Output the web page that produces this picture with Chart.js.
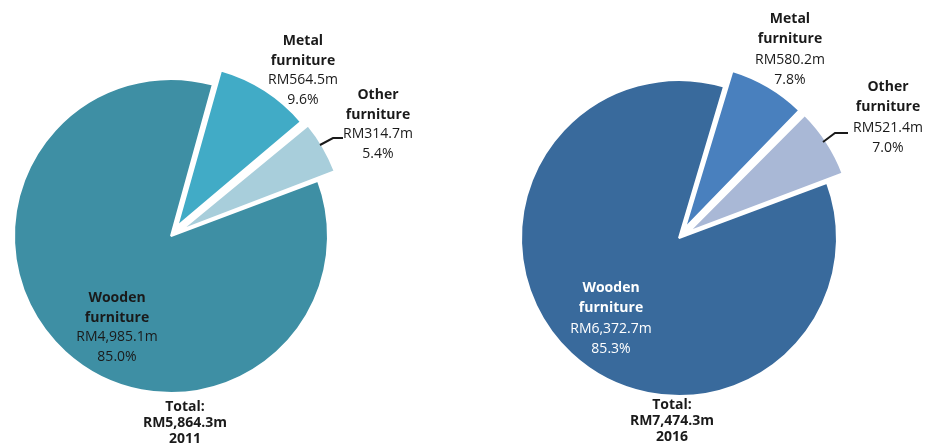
<!DOCTYPE html>
<html>
<head>
<meta charset="utf-8">
<script src="https://cdn.jsdelivr.net/npm/chart.js@4.4.1/dist/chart.umd.min.js"></script>
<style>
  html, body { margin: 0; padding: 0; background: #fff; }
  #wrap { position: relative; width: 930px; height: 447px; overflow: hidden; }
  canvas { position: absolute; top: 0; }
</style>
</head>
<body>
<div id="wrap">
  <canvas id="pie2011" width="465" height="447" style="left:0"></canvas>
  <canvas id="pie2016" width="465" height="447" style="left:465px"></canvas>
</div>
<script>
var categories = ['Wooden furniture', 'Metal furniture', 'Other furniture'];
var values2011 = [4985.1, 564.5, 314.7];
var values2016 = [6372.7, 580.2, 521.4];
var years = ['2011', '2016'];

function fmtRM(v) {
    return 'RM' + v.toLocaleString('en-US', {minimumFractionDigits: 1, maximumFractionDigits: 1}) + 'm';
}

// draws the slice labels, leader line and total under each pie
var pieLabels = {
    id: 'pieLabels',
    afterDatasetsDraw: function(chart, args, opts) {
        var ctx = chart.ctx;
        var arcs = chart.getDatasetMeta(0).data;
        var cx = arcs[0].x, cy = arcs[0].y;
        var data = chart.data.datasets[0].data;
        var total = data.reduce(function(a, b) { return a + b; }, 0);
        var font = '"Open Sans", "Noto Sans", sans-serif';
        ctx.save();
        ctx.textAlign = 'center';
        ctx.textBaseline = 'middle';
        opts.spots.forEach(function(s, i) {
            var words = chart.data.labels[i].split(' ');
            var lines = [
                {t: words[0], b: true},
                {t: words[1], b: true},
                {t: fmtRM(data[i]), b: false},
                {t: (data[i] / total * 100).toFixed(1) + '%', b: false}
            ];
            ctx.fillStyle = s.color || '#1a1a1a';
            lines.forEach(function(l, k) {
                ctx.font = (l.b ? 'bold ' : '') + '14px ' + font;
                ctx.fillText(l.t, cx + s.dx, cy + s.dy + k * opts.lineGap);
            });
        });
        // leader line for the small slice
        ctx.strokeStyle = '#1a1a1a';
        ctx.lineWidth = 2;
        ctx.beginPath();
        opts.leader.forEach(function(p, k) {
            if (k === 0) ctx.moveTo(cx + p[0], cy + p[1]);
            else ctx.lineTo(cx + p[0], cy + p[1]);
        });
        ctx.stroke();
        // total
        ctx.fillStyle = '#1a1a1a';
        ctx.font = 'bold 14px ' + font;
        var tl = ['Total:', fmtRM(total), opts.year];
        tl.forEach(function(t, k) {
            ctx.fillText(t, cx + opts.total[0], cy + opts.total[1] + k * 16);
        });
        ctx.restore();
    }
};

function makePie(id, values, colors, opts) {
    return new Chart(document.getElementById(id), {
        type: 'pie',
        data: {
            labels: categories,
            datasets: [{
                data: values,
                backgroundColor: colors,
                borderColor: '#ffffff',
                borderWidth: 2,
                offset: [0, 46, 46]
            }]
        },
        options: {
            responsive: false,
            animation: false,
            events: [],
            rotation: opts.rotation,
            radius: opts.radius,
            layout: {padding: opts.padding},
            plugins: {
                legend: {display: false},
                tooltip: {enabled: false},
                pieLabels: opts.labels
            }
        },
        plugins: [pieLabels]
    });
}

makePie('pie2011', values2011, ['#3e8fa4', '#41abc6', '#a8cedb'], {
    rotation: 69.4,
    radius: 157,
    padding: {left: 0, right: 123, top: 65, bottom: 40},
    labels: {
        year: years[0],
        lineGap: 19.7,
        spots: [
            {dx: -54, dy: 62},
            {dx: 132, dy: -195},
            {dx: 207, dy: -141}
        ],
        leader: [[149, -91], [162, -98], [172, -98]],
        total: [14, 171]
    }
});

makePie('pie2016', values2016, ['#396a9c', '#4980be', '#a9b8d6'], {
    rotation: 69.6,
    radius: 158,
    padding: {left: 0, right: 37, top: 38, bottom: 9},
    labels: {
        year: years[1],
        lineGap: 20.4,
        spots: [
            {dx: -68, dy: 50, color: '#ffffff'},
            {dx: 111, dy: -219},
            {dx: 209, dy: -151}
        ],
        leader: [[144, -96], [156, -105], [169, -105]],
        total: [-7, 167]
    }
});
</script>
</body>
</html>
